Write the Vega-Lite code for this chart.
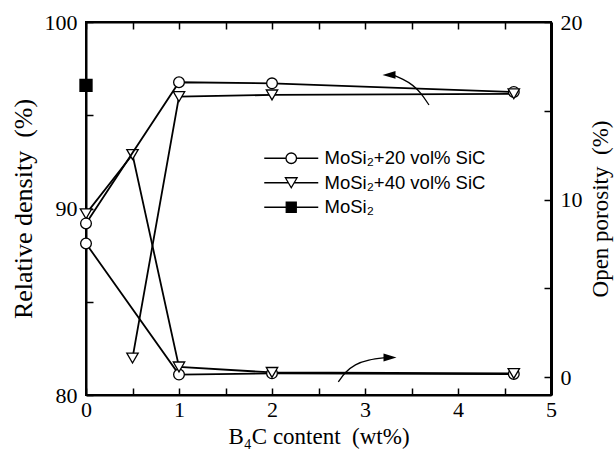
{
  "$schema": "https://vega.github.io/schema/vega-lite/v6.json",
  "width": 465,
  "height": 373,
  "autosize": {"type": "none"},
  "padding": {"left": 86, "top": 22, "right": 64, "bottom": 65},
  "background": "white",
  "config": {
    "view": {"stroke": "black", "strokeWidth": 2},
    "axis": {
      "grid": false,
      "domainColor": "black",
      "domainWidth": 2,
      "tickColor": "black",
      "tickWidth": 1.5,
      "labelFont": "Liberation Serif",
      "labelFontSize": 22,
      "labelColor": "black",
      "labelFlush": false,
      "titleFont": "Liberation Serif",
      "titleFontWeight": "normal",
      "titleColor": "black"
    }
  },
  "datasets": {
    "density": [
      {"series": "MoSi₂+20 vol% SiC", "x": 0, "v": 89.2},
      {"series": "MoSi₂+20 vol% SiC", "x": 1, "v": 96.77},
      {"series": "MoSi₂+20 vol% SiC", "x": 2, "v": 96.71},
      {"series": "MoSi₂+20 vol% SiC", "x": 4.6, "v": 96.25},
      {"series": "MoSi₂+40 vol% SiC", "x": 0.5, "v": 81.98},
      {"series": "MoSi₂+40 vol% SiC", "x": 1, "v": 96.0},
      {"series": "MoSi₂+40 vol% SiC", "x": 2, "v": 96.09},
      {"series": "MoSi₂+40 vol% SiC", "x": 4.6, "v": 96.15},
      {"series": "MoSi₂", "x": 0, "v": 96.6}
    ],
    "porosity": [
      {"series": "MoSi₂+20 vol% SiC", "x": 0, "v": 7.53},
      {"series": "MoSi₂+20 vol% SiC", "x": 1, "v": 0.15},
      {"series": "MoSi₂+20 vol% SiC", "x": 2, "v": 0.22},
      {"series": "MoSi₂+20 vol% SiC", "x": 4.6, "v": 0.18},
      {"series": "MoSi₂+40 vol% SiC", "x": 0, "v": 9.2},
      {"series": "MoSi₂+40 vol% SiC", "x": 0.5, "v": 12.54},
      {"series": "MoSi₂+40 vol% SiC", "x": 1, "v": 0.58},
      {"series": "MoSi₂+40 vol% SiC", "x": 2, "v": 0.27},
      {"series": "MoSi₂+40 vol% SiC", "x": 4.6, "v": 0.21}
    ],
    "arrowD": [
      {"i": 1, "x": 3.688, "v": 95.55},
      {"i": 2, "x": 3.602, "v": 96.19},
      {"i": 3, "x": 3.516, "v": 96.62},
      {"i": 4, "x": 3.409, "v": 96.94},
      {"i": 5, "x": 3.3, "v": 97.16}
    ],
    "headD": [{"x": 3.258, "v": 97.16}],
    "arrowP": [
      {"i": 1, "x": 2.713, "v": -0.26},
      {"i": 2, "x": 2.785, "v": 0.28},
      {"i": 3, "x": 2.892, "v": 0.73},
      {"i": 4, "x": 3.032, "v": 0.99},
      {"i": 5, "x": 3.23, "v": 1.11}
    ],
    "headP": [{"x": 3.269, "v": 1.11}]
  },
  "layer": [
    {
      "data": {"name": "porosity"},
      "encoding": {
        "x": {"field": "x", "type": "quantitative", "scale": {"domain": [0, 5], "nice": false}, "axis": null},
        "y": {
          "field": "v", "type": "quantitative",
          "scale": {"domain": [-1, 20], "nice": false, "zero": false},
          "axis": {
            "orient": "right",
            "values": [0, 5, 10, 15, 20],
            "labelExpr": "datum.value % 10 === 0 ? datum.label : ''",
            "tickSize": -7,
            "labelPadding": 16,
            "domainWidth": 3,
            "title": "Open porosity\u00a0\u00a0(%)",
            "titleFontSize": 23,
            "titleAngle": -90,
            "titleBaseline": "top",
            "titlePadding": 7
          }
        }
      },
      "layer": [
        {
          "mark": {"type": "line", "color": "black", "strokeWidth": 1.8},
          "encoding": {"detail": {"field": "series", "type": "nominal"}, "order": {"field": "x", "type": "quantitative"}}
        },
        {
          "mark": {"type": "point", "stroke": "black", "strokeWidth": 1.3, "opacity": 1},
          "encoding": {
            "shape": {"field": "series", "type": "nominal", "scale": {"domain": ["MoSi₂+20 vol% SiC", "MoSi₂+40 vol% SiC", "MoSi₂"], "range": ["circle", "triangle-down", "square"]}, "legend": null},
            "fill": {"field": "series", "type": "nominal", "scale": {"domain": ["MoSi₂+20 vol% SiC", "MoSi₂+40 vol% SiC", "MoSi₂"], "range": ["white", "white", "black"]}, "legend": null},
            "size": {"field": "series", "type": "nominal", "scale": {"domain": ["MoSi₂+20 vol% SiC", "MoSi₂+40 vol% SiC", "MoSi₂"], "range": [115, 145, 110]}, "legend": null}
          }
        },
        {
          "data": {"name": "arrowP"},
          "mark": {"type": "line", "interpolate": "basis", "color": "black", "strokeWidth": 1.3},
          "encoding": {"order": {"field": "i", "type": "quantitative"}}
        },
        {
          "data": {"name": "headP"},
          "mark": {"type": "point", "shape": "M1,0L-1,-0.6L-1,0.6Z", "filled": true, "color": "black", "size": 169, "opacity": 1}
        }
      ]
    },
    {
      "data": {"name": "density"},
      "encoding": {
        "x": {
          "field": "x", "type": "quantitative", "scale": {"domain": [0, 5], "nice": false},
          "axis": {
            "orient": "bottom",
            "values": [0, 0.5, 1, 1.5, 2, 2.5, 3, 3.5, 4, 4.5, 5],
            "labelExpr": "datum.value % 1 === 0 ? format(datum.value, 'd') : ''",
            "tickSize": -7,
            "labelPadding": 11,
            "title": "B₄C content\u00a0\u00a0(wt%)",
            "titleFontSize": 23,
            "titlePadding": 5
          }
        },
        "y": {
          "field": "v", "type": "quantitative",
          "scale": {"domain": [80, 100], "nice": false, "zero": false},
          "axis": {
            "orient": "left",
            "values": [80, 85, 90, 95, 100],
            "labelExpr": "datum.value % 10 === 0 ? datum.label : ''",
            "tickSize": -7,
            "labelPadding": 16,
            "title": "Relative density\u00a0\u00a0(%)",
            "titleFontSize": 26,
            "titlePadding": 8
          }
        }
      },
      "layer": [
        {
          "mark": {"type": "line", "color": "black", "strokeWidth": 1.8},
          "encoding": {"detail": {"field": "series", "type": "nominal"}, "order": {"field": "x", "type": "quantitative"}}
        },
        {
          "mark": {"type": "point", "stroke": "black", "strokeWidth": 1.3, "opacity": 1},
          "encoding": {
            "shape": {"field": "series", "type": "nominal", "scale": {"domain": ["MoSi₂+20 vol% SiC", "MoSi₂+40 vol% SiC", "MoSi₂"], "range": ["circle", "triangle-down", "square"]}, "legend": null},
            "fill": {"field": "series", "type": "nominal", "scale": {"domain": ["MoSi₂+20 vol% SiC", "MoSi₂+40 vol% SiC", "MoSi₂"], "range": ["white", "white", "black"]}, "legend": null},
            "size": {"field": "series", "type": "nominal", "scale": {"domain": ["MoSi₂+20 vol% SiC", "MoSi₂+40 vol% SiC", "MoSi₂"], "range": [115, 145, 110]}, "legend": null}
          }
        },
        {
          "data": {"name": "arrowD"},
          "mark": {"type": "line", "interpolate": "basis", "color": "black", "strokeWidth": 1.3},
          "encoding": {"order": {"field": "i", "type": "quantitative"}}
        },
        {
          "data": {"name": "headD"},
          "mark": {"type": "point", "shape": "M-1,0L1,-0.6L1,0.6Z", "filled": true, "color": "black", "size": 169, "opacity": 1}
        }
      ]
    },
    {
      "data": {"name": "density"},
      "transform": [{"filter": "datum.x > 100"}],
      "mark": {"type": "point", "strokeWidth": 1.3, "opacity": 1},
      "encoding": {
        "x": {
          "field": "x", "type": "quantitative", "scale": {"domain": [0, 5], "nice": false},
          "axis": {
            "orient": "top",
            "values": [0, 0.5, 1, 1.5, 2, 2.5, 3, 3.5, 4, 4.5, 5],
            "labels": false,
            "tickSize": -7,
            "title": null
          }
        },
        "shape": {
          "field": "series", "type": "nominal",
          "scale": {
            "domain": ["MoSi₂+20 vol% SiC", "MoSi₂+40 vol% SiC", "MoSi₂"],
            "range": [
              "M-5.4,0H-1.05M1.05,0H5.4M-1.05,0A1.05,1.05,0,1,1,1.05,0A1.05,1.05,0,1,1,-1.05,0Z",
              "M-5.4,0H-0.6M0.6,0H5.4M0,1L-1.17,-1L1.17,-1Z",
              "M-5.4,0H-1M1,0H5.4M-1,-1H1V1H-1Z"
            ]
          },
          "legend": {
            "title": null, "orient": "none", "legendX": 196, "legendY": 127,
            "symbolSize": 100, "symbolStrokeWidth": 1.3,
            "labelFont": "Liberation Sans", "labelFontSize": 18.5, "labelColor": "black",
            "labelOffset": 24, "rowPadding": 5.5, "padding": 0, "labelLimit": 0
          }
        },
        "fill": {
          "field": "series", "type": "nominal",
          "scale": {"domain": ["MoSi₂+20 vol% SiC", "MoSi₂+40 vol% SiC", "MoSi₂"], "range": ["white", "white", "black"]},
          "legend": {
            "title": null, "orient": "none", "legendX": 196, "legendY": 127,
            "symbolSize": 100, "symbolStrokeWidth": 1.3,
            "labelFont": "Liberation Sans", "labelFontSize": 18.5, "labelColor": "black",
            "labelOffset": 24, "rowPadding": 5.5, "padding": 0, "labelLimit": 0
          }
        },
        "stroke": {
          "field": "series", "type": "nominal",
          "scale": {"domain": ["MoSi₂+20 vol% SiC", "MoSi₂+40 vol% SiC", "MoSi₂"], "range": ["black", "black", "black"]},
          "legend": {
            "title": null, "orient": "none", "legendX": 196, "legendY": 127,
            "symbolSize": 100, "symbolStrokeWidth": 1.3,
            "labelFont": "Liberation Sans", "labelFontSize": 18.5, "labelColor": "black",
            "labelOffset": 24, "rowPadding": 5.5, "padding": 0, "labelLimit": 0
          }
        }
      }
    }
  ],
  "resolve": {
    "scale": {"y": "independent", "shape": "independent", "fill": "independent", "size": "independent", "stroke": "independent"},
    "axis": {"x": "independent", "y": "independent"},
    "legend": {"shape": "independent", "fill": "independent", "stroke": "independent"}
  }
}
